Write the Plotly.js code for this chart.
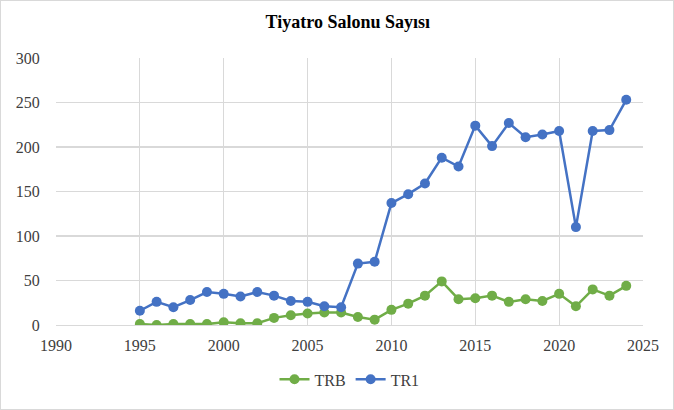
<!DOCTYPE html>
<html><head><meta charset="utf-8">
<script src="https://cdn.plot.ly/plotly-3.0.1.min.js"></script>
<style>html,body{margin:0;padding:0;background:#fff}#c{width:674px;height:410px;box-sizing:border-box;border:1px solid #d9d9d9}</style>
</head><body><div id="c"></div>
<script>
const years = [1995,1996,1997,1998,1999,2000,2001,2002,2003,2004,2005,2006,2007,2008,2009,2010,2011,2012,2013,2014,2015,2016,2017,2018,2019,2020,2021,2022,2023,2024];
const trb = [1,0,1,1,1,3,2,2,8,11,13,14,14,9,6,17,24,33,49,29,30,33,26,29,27,35,21,40,33,44];
const tr1 = [16,26,20,28,37,35,32,37,33,27,26,21,20,69,71,137,147,159,188,178,224,201,227,211,214,218,110,218,219,253];
const font = {family:'"Liberation Serif","Times New Roman",serif', color:'#404040', size:16};
const traces = [
 {x:years,y:trb,name:'TRB',mode:'lines+markers',line:{color:'#70ad47',width:2.5},marker:{color:'#70ad47',size:10}},
 {x:years,y:tr1,name:'TR1',mode:'lines+markers',line:{color:'#4472c4',width:2.5},marker:{color:'#4472c4',size:10}}
];
const layout = {
 width:672,height:408,
 margin:{l:55,r:30,t:57,b:84,autoexpand:false},
 paper_bgcolor:'#fff',plot_bgcolor:'#fff',
 title:{text:'<b>Tiyatro Salonu Sayısı</b>',font:{family:'"Liberation Serif","Times New Roman",serif',size:18,color:'#000'},x:0.516,xanchor:'center',y:0.95,yanchor:'middle'},
 xaxis:{range:[1990,2025],dtick:5,tick0:1990,showgrid:true,gridcolor:'#d9d9d9',gridwidth:1.2,zeroline:false,showline:true,linecolor:'#d9d9d9',mirror:false,ticks:'outside',ticklen:6,tickcolor:'rgba(0,0,0,0)',tickfont:font,fixedrange:true},
 yaxis:{range:[0,300],dtick:50,showgrid:true,gridcolor:'#d9d9d9',gridwidth:1.2,zeroline:false,showline:false,ticks:'outside',ticklen:12,tickcolor:'rgba(0,0,0,0)',tickfont:font,fixedrange:true},
 legend:{orientation:'h',x:0.5,xanchor:'center',y:-0.14,yanchor:'top',font:{family:'"Liberation Serif","Times New Roman",serif',size:16,color:'#404040'}},
 showlegend:true
};
Plotly.newPlot('c',traces,layout,{displayModeBar:false,staticPlot:true});
</script></body></html>
